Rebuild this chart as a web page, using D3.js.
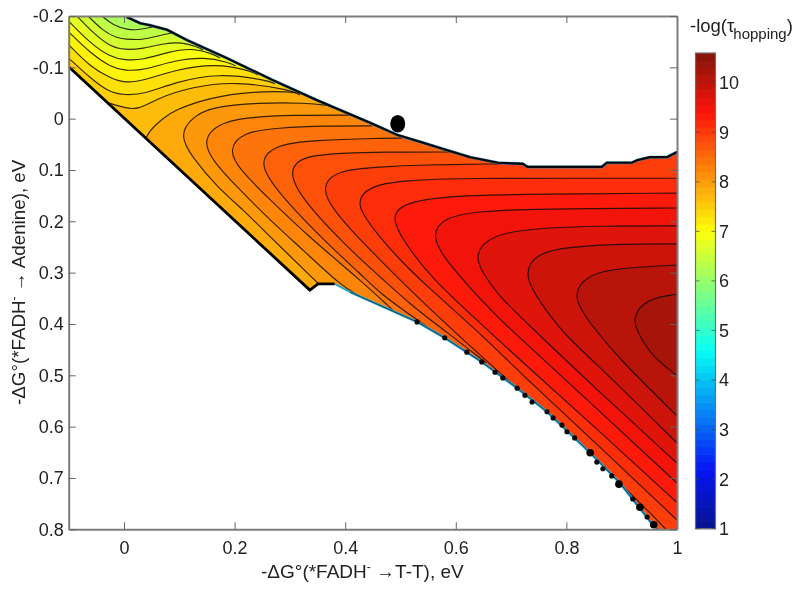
<!DOCTYPE html>
<html>
<head>
<meta charset="utf-8">
<script src="https://cdn.jsdelivr.net/npm/d3@7/dist/d3.min.js"></script>
<style>
html,body{margin:0;padding:0;background:#fff;}
svg{display:block;filter:blur(0.5px);}
text{font-family:"Liberation Sans",Arial,sans-serif;fill:#222;}
</style>
</head>
<body>
<svg id="chart" width="800" height="590"></svg>
<script>
// ---- Axis and colour-bar values ----
const xTicks = [0, 0.2, 0.4, 0.6, 0.8, 1];
const xTickLabels = ["0", "0.2", "0.4", "0.6", "0.8", "1"];
const yTicks = [-0.2, -0.1, 0, 0.1, 0.2, 0.3, 0.4, 0.5, 0.6, 0.7, 0.8];
const yTickLabels = ["-0.2", "-0.1", "0", "0.1", "0.2", "0.3", "0.4", "0.5", "0.6", "0.7", "0.8"];
const barTicks = [1, 2, 3, 4, 5, 6, 7, 8, 9, 10];
const xDomain = [-0.1, 1];
const yDomain = [-0.2, 0.8];
const barDomain = [1, 10.6];
const baseLevel = 6.2;
const levelStart = 6.31;
const levelStep = 0.183;

// ---- Feasible region outline, eV ----
const upperEdge = [[-0.1,-0.2],[-0.011,-0.2],[0.005,-0.198],[0.029,-0.186],[0.047,-0.182],[0.078,-0.173],[0.114,-0.153],[0.186,-0.118],[0.269,-0.075],[0.349,-0.036],[0.445,0.008],[0.495,0.032],[0.535,0.045],[0.577,0.059],[0.626,0.075],[0.676,0.086],[0.721,0.088],[0.73,0.094],[0.864,0.094],[0.873,0.086],[0.918,0.086],[0.928,0.081],[0.951,0.075],[0.982,0.075],[1,0.065]];
const lowerEdge = [[0.965,0.8],[0.956,0.791],[0.897,0.71],[0.843,0.651],[0.765,0.571],[0.711,0.525],[0.647,0.474],[0.58,0.427],[0.53,0.396],[0.409,0.338]];
const notchEdge = [[0.409,0.338],[0.381,0.322],[0.351,0.322],[0.336,0.334],[-0.1,-0.101]];
const edgeBlobs = [[0.53,0.396],[0.58,0.427],[0.62,0.455],[0.647,0.474],[0.671,0.494],[0.685,0.505],[0.711,0.525],[0.725,0.539],[0.738,0.552],[0.765,0.571],[0.776,0.583],[0.792,0.597],[0.801,0.61],[0.815,0.622],[0.855,0.669],[0.866,0.682],[0.882,0.696],[0.92,0.741],[0.946,0.776]];
const edgeBigBlobs = [[0.843,0.651],[0.895,0.712],[0.933,0.757],[0.958,0.791]];
const markerPoint = [0.495, 0.01];

// ---- Contour lines, [x eV, y eV] ----
const contour01 = [[-0.04,-0.2],[-0.02,-0.182],[0.007,-0.173],[0.025,-0.173],[0.047,-0.177],[0.056,-0.181]];
const contour02 = [[-0.065,-0.2],[-0.038,-0.171],[-0.013,-0.157],[0.002,-0.155],[0.033,-0.153],[0.061,-0.161],[0.083,-0.167],[0.094,-0.167]];
const contour03 = [[-0.085,-0.2],[-0.056,-0.167],[-0.025,-0.14],[0.002,-0.134],[0.033,-0.136],[0.074,-0.147],[0.105,-0.149],[0.132,-0.14],[0.143,-0.134]];
const contour04 = [[-0.1,-0.19],[-0.061,-0.147],[-0.025,-0.12],[0.002,-0.114],[0.033,-0.114],[0.08,-0.13],[0.123,-0.138],[0.161,-0.126],[0.174,-0.118]];
const contour05 = [[-0.1,-0.169],[-0.061,-0.128],[-0.025,-0.101],[0.002,-0.093],[0.038,-0.095],[0.092,-0.114],[0.146,-0.12],[0.188,-0.11],[0.202,-0.103]];
const contour06 = [[-0.1,-0.144],[-0.061,-0.101],[-0.025,-0.079],[0.002,-0.069],[0.038,-0.075],[0.092,-0.095],[0.165,-0.108],[0.231,-0.093],[0.242,-0.085]];
const contour07 = [[-0.1,-0.118],[-0.061,-0.079],[-0.025,-0.05],[0.002,-0.046],[0.038,-0.048],[0.092,-0.071],[0.17,-0.089],[0.26,-0.075],[0.273,-0.068]];
const contour08 = [[-0.029,-0.031],[0.002,-0.021],[0.025,-0.017],[0.061,-0.04],[0.123,-0.062],[0.201,-0.073],[0.304,-0.056],[0.318,-0.046]];
const contour09 = [[0.04,0.038],[0.047,0.022],[0.071,-0.001],[0.092,-0.017],[0.152,-0.04],[0.231,-0.054],[0.327,-0.052],[0.344,-0.04]];
const contour10 = [[0.354,0.324],[0.246,0.211],[0.222,0.184],[0.168,0.133],[0.123,0.075],[0.1,0.032],[0.123,-0.003],[0.159,-0.023],[0.242,-0.031],[0.327,-0.031],[0.376,-0.025]];
const contour11 = [[0.423,0.344],[0.391,0.324],[0.324,0.256],[0.269,0.203],[0.204,0.133],[0.159,0.081],[0.143,0.042],[0.168,0.01],[0.222,-0.003],[0.306,-0.007],[0.412,-0.007]];
const contour12 = [[0.486,0.373],[0.427,0.314],[0.336,0.232],[0.259,0.153],[0.21,0.1],[0.188,0.061],[0.215,0.026],[0.277,0.018],[0.367,0.014],[0.448,0.014]];
const contour13 = [[0.568,0.421],[0.513,0.379],[0.463,0.34],[0.432,0.307],[0.36,0.236],[0.269,0.133],[0.243,0.081],[0.277,0.05],[0.342,0.042],[0.463,0.038],[0.503,0.038]];
const contour14 = [[0.655,0.476],[0.584,0.416],[0.523,0.367],[0.463,0.308],[0.403,0.25],[0.318,0.153],[0.297,0.1],[0.324,0.072],[0.396,0.067],[0.463,0.065],[0.598,0.065]];
const contour15 = [[0.982,0.803],[0.956,0.772],[0.843,0.655],[0.734,0.548],[0.613,0.431],[0.523,0.34],[0.463,0.275],[0.427,0.236],[0.378,0.178],[0.356,0.133],[0.385,0.1],[0.463,0.094],[0.535,0.09],[0.683,0.088]];
const contour16 = [[1,0.782],[0.861,0.64],[0.716,0.495],[0.644,0.418],[0.541,0.32],[0.499,0.275],[0.463,0.232],[0.439,0.197],[0.42,0.164],[0.441,0.132],[0.504,0.12],[0.626,0.116],[0.806,0.116],[1,0.116]];
const contour17 = [[1,0.748],[0.861,0.61],[0.716,0.47],[0.644,0.398],[0.553,0.308],[0.504,0.236],[0.483,0.193],[0.504,0.162],[0.607,0.149],[0.747,0.147],[1,0.145]];
const contour18 = [[1,0.71],[0.861,0.571],[0.716,0.427],[0.674,0.386],[0.584,0.281],[0.555,0.229],[0.577,0.192],[0.644,0.18],[0.747,0.176],[1,0.174]];
const contour19 = [[1,0.671],[0.861,0.534],[0.716,0.386],[0.674,0.34],[0.649,0.301],[0.633,0.266],[0.662,0.226],[0.747,0.213],[0.866,0.209],[1,0.209]];
const contour20 = [[1,0.632],[0.879,0.503],[0.794,0.418],[0.77,0.383],[0.718,0.306],[0.747,0.26],[0.806,0.25],[0.897,0.244],[1,0.244]];
const contour21 = [[1,0.579],[0.897,0.47],[0.848,0.406],[0.808,0.347],[0.837,0.303],[0.897,0.291],[1,0.285]];
const contour22 = [[1,0.501],[0.956,0.464],[0.933,0.425],[0.917,0.388],[0.946,0.35],[1,0.342]];
const contours = [contour01,contour02,contour03,contour04,contour05,contour06,contour07,contour08,contour09,contour10,contour11,contour12,contour13,contour14,contour15,contour16,contour17,contour18,contour19,contour20,contour21,contour22];

// ---- Scales ----
const x = d3.scaleLinear().domain(xDomain).range([68.7, 677]);
const y = d3.scaleLinear().domain(yDomain).range([16, 529.3]);
const yBar = d3.scaleLinear().domain(barDomain).range([528.6, 53]);
const jetStops = [0, 0.125, 0.375, 0.625, 0.875, 1];
const jet = d3.scaleLinear()
  .domain(jetStops.map(t => barDomain[0] + t * (barDomain[1] - barDomain[0])))
  .range(["#00008f", "#0000ff", "#00ffff", "#ffff00", "#ff0000", "#800000"])
  .interpolate(d3.interpolateRgb);
const softJet = v => {
  const c = d3.rgb(jet(v));
  return d3.rgb(c.r * 0.97 + 6, c.g * 0.92 + 20, c.b * 0.92 + 10).formatHex();
};

const svg = d3.select("#chart");
const defs = svg.append("defs");
const px = p => [x(p[0]), y(p[1])];
const fullEdge = upperEdge.concat([[1, 0.8]], lowerEdge, notchEdge.slice(1));
defs.append("clipPath").attr("id", "region")
  .append("path").attr("d", "M" + fullEdge.map(px).join("L") + "Z");
defs.append("clipPath").attr("id", "frame")
  .append("rect").attr("x", x(xDomain[0])).attr("y", y(yDomain[0]))
  .attr("width", x(xDomain[1]) - x(xDomain[0])).attr("height", y(yDomain[1]) - y(yDomain[0]));

// ---- Filled bands, painted from low to high ----
const curve = d3.line().x(d => x(d[0])).y(d => y(d[1])).curve(d3.curveBasis);
const filled = svg.append("g").attr("clip-path", "url(#region)");
filled.append("rect").attr("x", 60).attr("y", 5).attr("width", 630).attr("height", 535)
  .attr("fill", softJet(baseLevel));

function bandPath(points) {
  const first = points[0], last = points[points.length - 1];
  const right = x(xDomain[1]) + 4, top = y(yDomain[0]) - 8, bottom = y(yDomain[1]) + 8, left = x(xDomain[0]) - 8;
  let tail = `L${x(last[0])},${top - 2}L${right},${top}L${right},${bottom}`;
  if (first[1] <= yDomain[0]) tail += `L${left},${bottom}L${left},${top}L${x(first[0])},${top}`;
  else if (first[0] <= xDomain[0]) tail += `L${left},${bottom}L${left},${y(first[1])}`;
  else tail += `L${x(first[0])},${bottom}`;
  return curve(points) + tail + "Z";
}
filled.selectAll("path.band").data(contours).join("path").attr("class", "band")
  .attr("d", bandPath)
  .attr("fill", (d, i) => softJet(levelStart + (i + 0.5) * levelStep));
filled.selectAll("path.line").data(contours).join("path").attr("class", "line")
  .attr("d", curve).attr("fill", "none")
  .attr("stroke", "#140c04").attr("stroke-opacity", 0.85).attr("stroke-width", 1.15);

// ---- Region edges ----
const straight = d3.line().x(d => x(d[0])).y(d => y(d[1]));
const edges = svg.append("g").attr("clip-path", "url(#frame)").attr("fill", "none");
edges.append("path").attr("d", straight(upperEdge.slice(2))).attr("stroke", "#3f86ab").attr("stroke-width", 3);
edges.append("path").attr("d", straight(upperEdge.slice(2))).attr("stroke", "#06060c").attr("stroke-width", 2.1);
edges.append("path").attr("d", straight(lowerEdge)).attr("stroke", "#29a9c9").attr("stroke-width", 2.6);
edges.append("path").attr("d", straight(lowerEdge)).attr("stroke", "#15324a").attr("stroke-width", 0.9);
edges.append("path").attr("d", straight(notchEdge.slice(0, 2))).attr("stroke", "#29a9c9").attr("stroke-width", 2);
edges.append("path").attr("d", straight(notchEdge.slice(1))).attr("stroke", "#000").attr("stroke-width", 2.8);
edges.selectAll("circle.blob").data(edgeBlobs).join("circle").attr("class", "blob")
  .attr("cx", d => x(d[0])).attr("cy", d => y(d[1])).attr("r", 2.6).attr("fill", "#06090f");
edges.selectAll("circle.big").data(edgeBigBlobs).join("circle").attr("class", "big")
  .attr("cx", d => x(d[0])).attr("cy", d => y(d[1])).attr("r", 3.8).attr("fill", "#000");

svg.append("ellipse").attr("cx", x(markerPoint[0])).attr("cy", y(markerPoint[1]))
  .attr("rx", 7.5).attr("ry", 8.8).attr("fill", "#000");

// ---- Axes ----
const gray = "#7d7d7d";
function styleAxis(g, fontSize) {
  g.selectAll(".domain").attr("stroke", gray).attr("stroke-width", 2);
  g.selectAll(".tick line").attr("stroke", "#666").attr("stroke-width", 1);
  g.selectAll("text").attr("font-size", fontSize).attr("font-family", '"Liberation Sans",Arial,sans-serif').attr("fill", "#222");
}
const plotW = x(xDomain[1]), plotH = y(yDomain[1]);
svg.append("g").attr("transform", `translate(0,${plotH})`)
  .call(d3.axisBottom(x).tickValues(xTicks).tickSize(-7).tickSizeOuter(0).tickPadding(12)
    .tickFormat((d, i) => xTickLabels[i])).call(styleAxis, 18);
svg.append("g").attr("transform", `translate(0,${y(yDomain[0])})`)
  .call(d3.axisTop(x).tickValues(xTicks).tickSize(-7).tickSizeOuter(0).tickFormat("")).call(styleAxis, 18);
svg.append("g").attr("transform", `translate(${x(xDomain[0])},0)`)
  .call(d3.axisLeft(y).tickValues(yTicks).tickSize(-7).tickSizeOuter(0).tickPadding(5)
    .tickFormat((d, i) => yTickLabels[i])).call(styleAxis, 18);
svg.append("g").attr("transform", `translate(${plotW},0)`)
  .call(d3.axisRight(y).tickValues(yTicks).tickSize(-7).tickSizeOuter(0).tickFormat("")).call(styleAxis, 18);

// ---- Colour bar ----
const barX = d3.scaleLinear().domain([0, 1]).range([695.5, 715.5]);
const cellCount = 64;
const cellValues = d3.range(cellCount).map(i => barDomain[0] + i * (barDomain[1] - barDomain[0]) / cellCount);
const cellH = (barDomain[1] - barDomain[0]) / cellCount;
svg.append("g").selectAll("rect").data(cellValues).join("rect")
  .attr("x", barX(0)).attr("width", barX(1) - barX(0))
  .attr("y", d => yBar(d + cellH)).attr("height", d => yBar(d) - yBar(d + cellH) + 0.6)
  .attr("fill", d => softJet(d + cellH / 2));
svg.append("rect").attr("x", barX(0)).attr("y", yBar(barDomain[1]))
  .attr("width", barX(1) - barX(0)).attr("height", yBar(barDomain[0]) - yBar(barDomain[1]))
  .attr("fill", "none").attr("stroke", "#6e6e6e").attr("stroke-width", 1.2);
const barTickG = svg.append("g").selectAll("g").data(barTicks).join("g");
barTickG.append("line").attr("x1", barX(0)).attr("x2", barX(0) + 4).attr("y1", d => yBar(d)).attr("y2", d => yBar(d)).attr("stroke", "#444").attr("stroke-opacity", 0.7);
barTickG.append("line").attr("x1", barX(1) - 4).attr("x2", barX(1)).attr("y1", d => yBar(d)).attr("y2", d => yBar(d)).attr("stroke", "#444").attr("stroke-opacity", 0.7);
barTickG.append("text").attr("x", 719).attr("y", d => yBar(d)).attr("dy", "0.36em").attr("font-size", 18).text(d => d);

// ---- Titles ----
const xTitle = svg.append("text").attr("x", 261).attr("y", 578).attr("font-size", 19);
xTitle.append("tspan").text("-ΔG°(*FADH");
xTitle.append("tspan").attr("dy", -7).attr("font-size", 12).text("-");
xTitle.append("tspan").attr("dy", 7).text(" →T-T), eV");

const yTitle = svg.append("text").attr("transform", "translate(25,405) rotate(-90)").attr("font-size", 18.8);
yTitle.append("tspan").text("-ΔG°(*FADH");
yTitle.append("tspan").attr("dy", -7).attr("font-size", 12).text("-");
yTitle.append("tspan").attr("dy", 7).text(" → Adenine), eV");

const barTitle = svg.append("text").attr("x", 690).attr("y", 32).attr("font-size", 18.5);
barTitle.append("tspan").text("-log(τ");
barTitle.append("tspan").attr("dy", 7).attr("dx", -1).attr("font-size", 15).text("hopping");
barTitle.append("tspan").attr("dy", -7).text(")");
</script>
</body>
</html>
